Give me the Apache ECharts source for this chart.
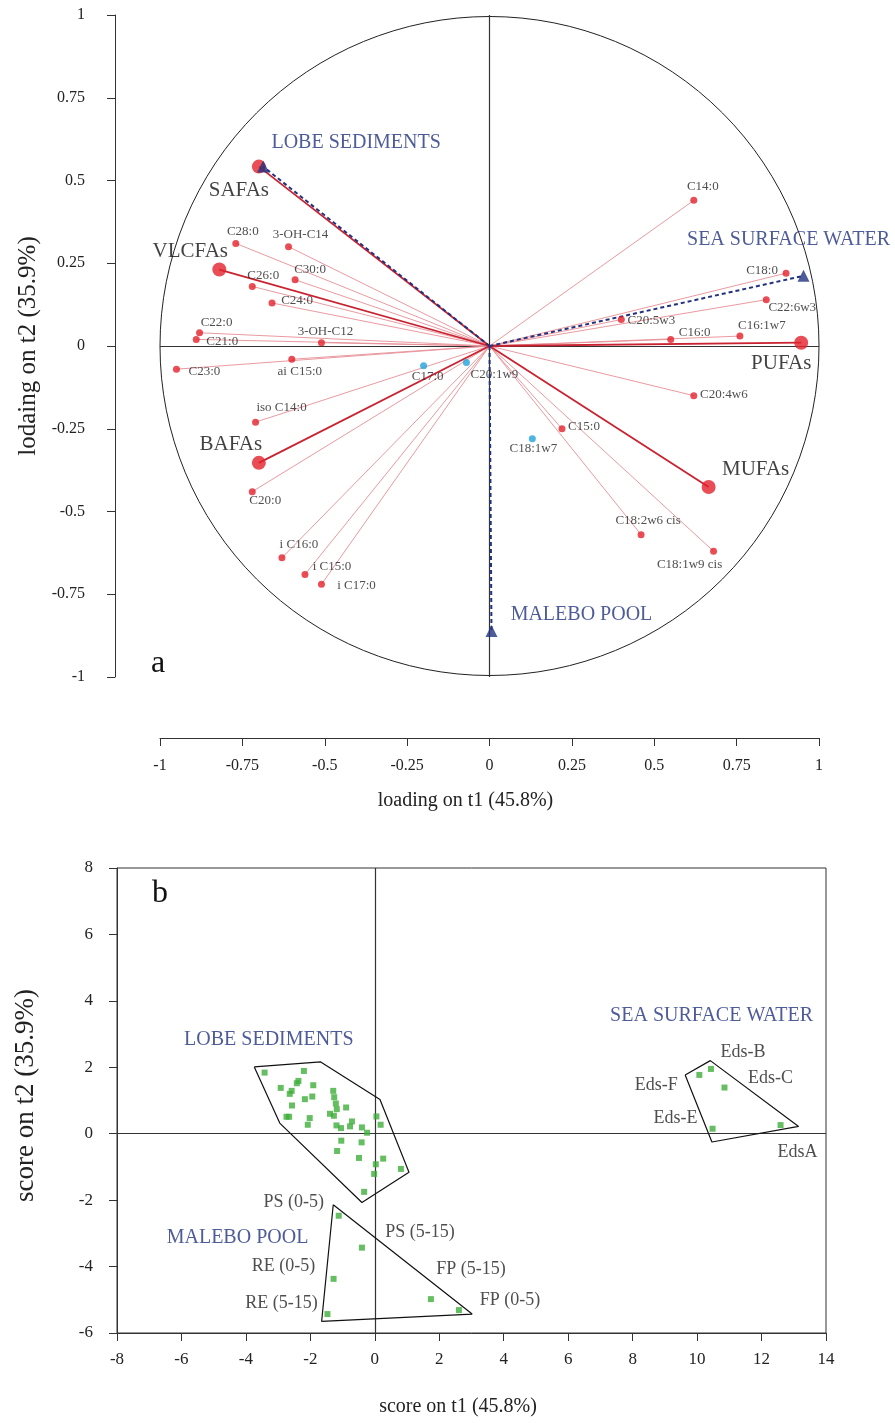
<!DOCTYPE html>
<html>
<head>
<meta charset="utf-8">
<script src="https://cdn.jsdelivr.net/npm/echarts@6/dist/echarts.min.js"></script>
<style>
  html, body { margin: 0; padding: 0; background: #fff; }
  #chart { width: 895px; height: 1423px; }
</style>
</head>
<body>
<div id="chart"></div>
<script>
// ---- panel a: loadings ----
const faNames = ['C28:0', '3-OH-C14', 'C26:0', 'C30:0', 'C24:0', 'C22:0', 'C21:0', '3-OH-C12', 'C23:0', 'ai C15:0',
  'iso C14:0', 'C20:0', 'i C16:0', 'i C15:0', 'i C17:0', 'C14:0', 'C18:0', 'C22:6w3', 'C20:5w3', 'C16:0',
  'C16:1w7', 'C20:4w6', 'C15:0', 'C18:2w6 cis', 'C18:1w9 cis']
const faT1 = [-0.77, -0.61, -0.72, -0.59, -0.66, -0.88, -0.89, -0.51, -0.95, -0.60,
  -0.71, -0.72, -0.63, -0.56, -0.51, 0.62, 0.90, 0.84, 0.40, 0.55,
  0.76, 0.62, 0.22, 0.46, 0.68]
const faT2 = [0.31, 0.30, 0.18, 0.20, 0.13, 0.04, 0.02, 0.01, -0.07, -0.04,
  -0.23, -0.44, -0.64, -0.69, -0.72, 0.44, 0.22, 0.14, 0.08, 0.02,
  0.03, -0.15, -0.25, -0.57, -0.62]

// minor compounds without vector
const minorNames = ['C17:0', 'C20:1w9', 'C18:1w7']
const minorT1 = [-0.20, -0.07, 0.13]
const minorT2 = [-0.06, -0.05, -0.28]

// fatty acid classes
const classNames = ['SAFAs', 'VLCFAs', 'BAFAs', 'MUFAs', 'PUFAs']
const classT1 = [-0.70, -0.82, -0.70, 0.665, 0.946]
const classT2 = [0.542, 0.231, -0.353, -0.426, 0.01]

// sites as supplementary variables
const siteNames = ['LOBE SEDIMENTS', 'SEA SURFACE WATER', 'MALEBO POOL']
const siteT1 = [-0.687, 0.953, 0.006]
const siteT2 = [0.542, 0.212, -0.861]

// ---- panel b: scores ----
const lobeT1 = [-3.42, -2.20, -2.37, -2.42, -2.92, -2.58, -2.64, -1.91, -1.94, -2.17,
  -2.57, -2.74, -2.66, -2.02, -2.08, -1.29, -1.26, -1.21, -1.18, -1.39,
  -1.27, -0.89, -1.19, -1.05, -0.71, -0.77, -0.40, -0.24, 0.05, 0.18,
  -1.04, -0.41, -1.17, -0.49, 0.26, 0.03, 0.81, -0.02, -0.33]
const lobeT2 = [1.84, 1.89, 1.59, 1.52, 1.38, 1.29, 1.20, 1.46, 1.12, 1.04,
  0.85, 0.51, 0.51, 0.47, 0.27, 1.29, 1.10, 0.91, 0.74, 0.60,
  0.54, 0.79, 0.25, 0.17, 0.37, 0.22, 0.19, 0.03, 0.52, 0.27,
  -0.21, -0.26, -0.52, -0.73, -0.75, -0.92, -1.06, -1.21, -1.75]

const maleboNames = ['PS (0-5)', 'PS (5-15)', 'RE (0-5)', 'RE (5-15)', 'FP (5-15)', 'FP (0-5)']
const maleboT1 = [-1.12, -0.40, -1.28, -1.47, 1.74, 2.61]
const maleboT2 = [-2.47, -3.43, -4.37, -5.43, -4.98, -5.31]

const seaNames = ['Eds-F', 'Eds-B', 'Eds-C', 'Eds-E', 'EdsA']
const seaT1 = [10.07, 10.43, 10.85, 10.48, 12.59]
const seaT2 = [1.77, 1.95, 1.39, 0.15, 0.26]

// convex hulls drawn round each group
const lobeHullT1 = [-3.74, -1.68, 0.16, 1.06, -0.40, -2.95]
const lobeHullT2 = [2.01, 2.16, 1.03, -1.16, -2.07, 0.32]
const maleboHullT1 = [-1.29, 3.02, -1.65]
const maleboHullT2 = [-2.14, -5.43, -5.65]
const seaHullT1 = [9.63, 10.41, 13.15, 10.46]
const seaHullT2 = [1.77, 2.20, 0.22, -0.25]

// group titles in panel b (data coordinates)
const groupNames = ['LOBE SEDIMENTS', 'SEA SURFACE WATER', 'MALEBO POOL']
const groupT1 = [-3.29, 10.45, -4.26]
const groupT2 = [2.83, 3.55, -3.13]

// label offsets (px, from marker centre)
const labelOffset = {
  'C28:0': [7, -12], '3-OH-C14': [12, -12], 'C26:0': [11, -11], 'C30:0': [15, -10], 'C24:0': [25, -2],
  'C22:0': [17, -10], 'C21:0': [26, 2], '3-OH-C12': [4, -11], 'C23:0': [28, 2], 'ai C15:0': [8, 12],
  'iso C14:0': [26, -15], 'C20:0': [13, 9], 'i C16:0': [17, -13], 'i C15:0': [27, -8], 'i C17:0': [35, 1],
  'C14:0': [9, -14], 'C18:0': [-24, -3], 'C22:6w3': [26, 8], 'C20:5w3': [30, 1], 'C16:0': [24, -7],
  'C16:1w7': [22, -10], 'C20:4w6': [30, -1], 'C15:0': [22, -2], 'C18:2w6 cis': [7, -14], 'C18:1w9 cis': [-24, 13],
  'C17:0': [4, 11], 'C20:1w9': [28, 12], 'C18:1w7': [1, 10],
  'SAFAs': [-20, 24], 'VLCFAs': [-29, -18], 'BAFAs': [-28, -18], 'MUFAs': [47, -18], 'PUFAs': [-20, 21],
  'LOBE SEDIMENTS': [93, -24], 'SEA SURFACE WATER': [-15, -36], 'MALEBO POOL': [90, -16],
  'Eds-B': [32, -17], 'Eds-C': [46, -9], 'Eds-F': [-43, 10], 'Eds-E': [-37, -10], 'EdsA': [17, 27],
  'PS (0-5)': [-45, -13], 'PS (5-15)': [58, -15], 'RE (0-5)': [-50, -13], 'RE (5-15)': [-46, -11],
  'FP (5-15)': [40, -30], 'FP (0-5)': [51, -10]
}

const FONT = '"Liberation Serif", "Times New Roman", serif'
const NAVY = '#22327f'
const RED = '#e3212b'

function pairs(xs, ys) {
  return xs.map((x, i) => [x, ys[i]])
}
function closed(xs, ys) {
  const p = pairs(xs, ys)
  return p.concat([p[0]])
}
function named(names, xs, ys) {
  return names.map((n, i) => ({
    name: n,
    value: [xs[i], ys[i]],
    label: { offset: labelOffset[n] || [0, 0] },
  }))
}
function vectors(xs, ys) {
  return xs.map((x, i) => ({ coords: [[0, 0], [x, ys[i]]] }))
}

function axisCommon(extra) {
  return Object.assign({
    type: 'value',
    splitLine: { show: false },
    axisLine: { show: true, onZero: false, lineStyle: { color: '#333', width: 1 } },
    axisTick: { show: true, inside: false, length: 8, lineStyle: { color: '#333' } },
    axisLabel: { color: '#222', fontFamily: FONT, fontSize: 16 },
    nameLocation: 'middle',
    nameTextStyle: { color: '#222', fontFamily: FONT, fontSize: 20 },
  }, extra)
}

const labelText = (size, color) => ({
  show: true, position: 'inside', formatter: '{b}',
  fontFamily: FONT, fontSize: size, color: color,
})

const chart = echarts.init(document.getElementById('chart'))

chart.setOption({
  animation: false,
  backgroundColor: '#fff',
  grid: [
    { left: 160, top: 15, width: 659, height: 662 },
    { left: 117, top: 868, width: 709, height: 465, show: true, borderColor: '#333', borderWidth: 1 },
  ],
  xAxis: [
    axisCommon({
      gridIndex: 0, min: -1, max: 1, interval: 0.25, position: 'bottom', offset: 61,
      axisLabel: { color: '#222', fontFamily: FONT, fontSize: 16, margin: 20 },
      name: 'loading on t1 (45.8%)', nameGap: 53,
      nameTextStyle: { color: '#222', fontFamily: FONT, fontSize: 20, padding: [0, 48, 0, 0] },
    }),
    axisCommon({
      gridIndex: 1, min: -8, max: 14, interval: 2, position: 'bottom',
      axisLabel: { color: '#222', fontFamily: FONT, fontSize: 17, margin: 18 },
      name: 'score on t1 (45.8%)', nameGap: 64,
      nameTextStyle: { color: '#222', fontFamily: FONT, fontSize: 20, padding: [0, 27, 0, 0] },
    }),
  ],
  yAxis: [
    axisCommon({
      gridIndex: 0, min: -1, max: 1, interval: 0.25, position: 'left', offset: 45,
      axisLabel: { color: '#222', fontFamily: FONT, fontSize: 16, margin: 30 },
      name: 'lodaing on t2 (35.9%)', nameGap: 74,
      nameTextStyle: { color: '#222', fontFamily: FONT, fontSize: 25 },
    }),
    axisCommon({
      gridIndex: 1, min: -6, max: 8, interval: 2, position: 'left',
      axisLabel: { color: '#222', fontFamily: FONT, fontSize: 17, margin: 24 },
      name: 'score on t2 (35.9%)', nameGap: 78,
      nameTextStyle: { color: '#222', fontFamily: FONT, fontSize: 27, padding: [0, 0, 0, 10] },
    }),
  ],
  graphic: [
    { type: 'text', left: 151, top: 648, style: { text: 'a', font: '32px ' + FONT, fill: '#111' } },
    { type: 'text', left: 152, top: 878, style: { text: 'b', font: '32px ' + FONT, fill: '#111' } },
  ],
  series: [
    // ---------- panel a ----------
    {
      type: 'custom', xAxisIndex: 0, yAxisIndex: 0, silent: true, data: [[0, 0]],
      renderItem: (params, api) => {
        const c = api.coord([0, 0])
        const e = api.coord([1, 0])
        return {
          type: 'circle',
          shape: { cx: c[0], cy: c[1], r: e[0] - c[0] },
          style: { fill: 'none', stroke: '#222', lineWidth: 1 },
        }
      },
    },
    {
      type: 'lines', coordinateSystem: 'cartesian2d', xAxisIndex: 0, yAxisIndex: 0, silent: true,
      lineStyle: { color: '#333', width: 1.2, opacity: 1 },
      data: [{ coords: [[-1, 0], [1, 0]] }, { coords: [[0, -1], [0, 1]] }],
    },
    {
      type: 'lines', coordinateSystem: 'cartesian2d', xAxisIndex: 0, yAxisIndex: 0, silent: true,
      lineStyle: { color: '#e78e95', width: 0.9, opacity: 1 },
      data: vectors(faT1, faT2),
    },
    {
      type: 'lines', coordinateSystem: 'cartesian2d', xAxisIndex: 0, yAxisIndex: 0, silent: true,
      lineStyle: { color: '#c92230', width: 1.8, opacity: 1 },
      data: vectors(classT1, classT2),
    },
    {
      type: 'lines', coordinateSystem: 'cartesian2d', xAxisIndex: 0, yAxisIndex: 0, silent: true,
      lineStyle: { color: NAVY, width: 2, opacity: 1, type: [4, 3] },
      data: vectors(siteT1, siteT2),
    },
    {
      type: 'scatter', xAxisIndex: 0, yAxisIndex: 0, symbol: 'circle', symbolSize: 7,
      itemStyle: { color: RED },
      label: labelText(13, '#222'),
      data: named(faNames, faT1, faT2),
    },
    {
      type: 'scatter', xAxisIndex: 0, yAxisIndex: 0, symbol: 'circle', symbolSize: 7,
      itemStyle: { color: '#22a3dc' },
      label: labelText(13, '#222'),
      data: named(minorNames, minorT1, minorT2),
    },
    {
      type: 'scatter', xAxisIndex: 0, yAxisIndex: 0, symbol: 'circle', symbolSize: 14,
      itemStyle: { color: RED },
      label: labelText(21, '#111'),
      data: named(classNames, classT1, classT2),
    },
    {
      type: 'scatter', xAxisIndex: 0, yAxisIndex: 0, symbol: 'triangle', symbolSize: 12,
      itemStyle: { color: NAVY },
      label: labelText(20, NAVY),
      data: named(siteNames, siteT1, siteT2),
    },

    // ---------- panel b ----------
    {
      type: 'lines', coordinateSystem: 'cartesian2d', xAxisIndex: 1, yAxisIndex: 1, silent: true,
      lineStyle: { color: '#333', width: 1.2, opacity: 1 },
      data: [{ coords: [[-8, 0], [14, 0]] }, { coords: [[0, -6], [0, 8]] }],
    },
    {
      type: 'line', xAxisIndex: 1, yAxisIndex: 1, symbol: 'none', silent: true,
      lineStyle: { color: '#111', width: 1.2 }, data: closed(lobeHullT1, lobeHullT2),
    },
    {
      type: 'line', xAxisIndex: 1, yAxisIndex: 1, symbol: 'none', silent: true,
      lineStyle: { color: '#111', width: 1.2 }, data: closed(maleboHullT1, maleboHullT2),
    },
    {
      type: 'line', xAxisIndex: 1, yAxisIndex: 1, symbol: 'none', silent: true,
      lineStyle: { color: '#111', width: 1.2 }, data: closed(seaHullT1, seaHullT2),
    },
    {
      type: 'scatter', xAxisIndex: 1, yAxisIndex: 1, symbol: 'rect', symbolSize: 6,
      itemStyle: { color: '#3fae3a' },
      data: pairs(lobeT1, lobeT2),
    },
    {
      type: 'scatter', xAxisIndex: 1, yAxisIndex: 1, symbol: 'rect', symbolSize: 6,
      itemStyle: { color: '#3fae3a' },
      label: labelText(18, '#222'),
      data: named(maleboNames, maleboT1, maleboT2),
    },
    {
      type: 'scatter', xAxisIndex: 1, yAxisIndex: 1, symbol: 'rect', symbolSize: 6,
      itemStyle: { color: '#3fae3a' },
      label: labelText(18, '#222'),
      data: named(seaNames, seaT1, seaT2),
    },
    {
      type: 'scatter', xAxisIndex: 1, yAxisIndex: 1, symbolSize: 0, silent: true,
      label: labelText(20, NAVY),
      data: named(groupNames, groupT1, groupT2).map((d) => ({ name: d.name, value: d.value })),
    },
  ],
})

window.addEventListener('resize', () => chart.resize())
</script>
</body>
</html>
